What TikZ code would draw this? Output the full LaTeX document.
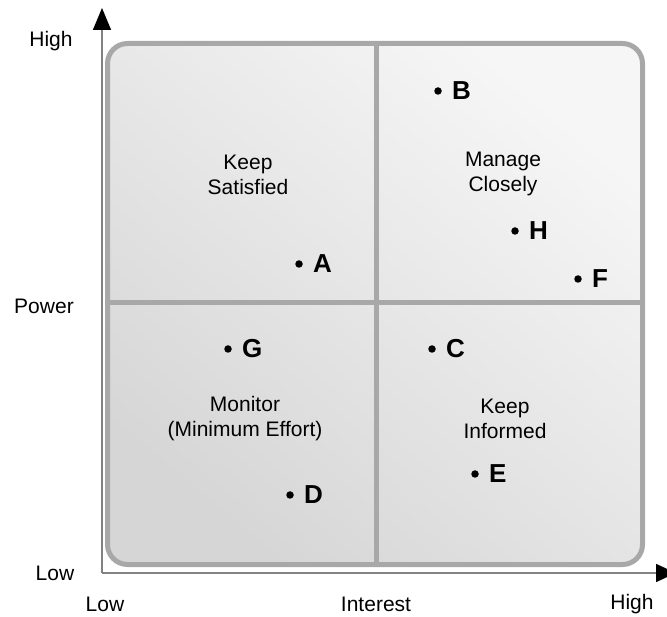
\documentclass[tikz,border=0pt]{standalone}
\usepackage{fontspec}
\setmainfont{Liberation Sans}
\usepackage{xcolor}
\usepackage{tikz}
\usetikzlibrary{arrows.meta,positioning}

\definecolor{frameGray}{RGB}{168,168,168}
\definecolor{axisGray}{RGB}{130,130,130}
\definecolor{lightFill}{RGB}{246,246,246}
\definecolor{darkFill}{RGB}{214,214,214}

\tikzset{
  stakedot/.style={circle,fill=black,inner sep=0pt,minimum size=7.5pt},
  stakename/.style={inner sep=0pt,font=\fontsize{26}{26}\selectfont\bfseries},
  quadtext/.style={align=center,font=\fontsize{21}{25}\selectfont},
  axistext/.style={font=\fontsize{21}{25}\selectfont}
}

\begin{document}
\begin{tikzpicture}[x=1pt,y=1pt,yscale=-1]
\useasboundingbox (0,0) rectangle (667,617);

%Rounded Rect: grid background
\shade [shading=axis,top color=lightFill,bottom color=darkFill,shading angle=-40,rounded corners=20pt]
  (107.5,43.5) rectangle (642.5,564.5);
%Quadrant dividers
\draw [frameGray,line width=5pt] (376,43.5) -- (376,564.5);
\draw [frameGray,line width=5pt] (107.5,303) -- (642.5,303);
%Rounded Rect: frame
\draw [frameGray,line width=5pt,rounded corners=20pt] (107.5,43.5) rectangle (642.5,564.5);

%Axes
\coordinate (origin) at (102,573);
\coordinate (ytip) at (102,8);
\coordinate (xtip) at (676,573);
\draw [axisGray,line width=1.5pt,-{Triangle[color=black,width=18pt,length=22pt]}] (origin) -- (ytip);
\draw [axisGray,line width=1.5pt,-{Triangle[color=black,width=18pt,length=20pt]}] (origin) -- (xtip);

% Text Node
\node [axistext] (powHigh) at (51,41) {High};
% Text Node
\node [axistext] (powLabel) at (44,306) {Power};
% Text Node
\node [axistext] (powLow) at (55,573) {Low};
% Text Node
\node [axistext] (intLow) at (105,604) {Low};
% Text Node
\node [axistext] (intLabel) at (376,604) {Interest};
% Text Node
\node [axistext] (intHigh) at (632,604) {High};

% Text Node
\node [quadtext] (keepSat) at (248,175) {Keep\\Satisfied};
% Text Node
\node [quadtext] (manage) at (503,174) {Manage\\Closely};
% Text Node
\node [quadtext] (monitor) at (245,419) {Monitor\\(Minimum Effort)};
% Text Node
\node [quadtext] (keepInf) at (505,419) {Keep\\Informed};

%Stakeholders
\node [stakedot] (dotA) at (299,264) {};
\node [stakename,right=10pt of dotA] (nameA) {A};
\node [stakedot] (dotB) at (438,91) {};
\node [stakename,right=10pt of dotB] (nameB) {B};
\node [stakedot] (dotC) at (432,349) {};
\node [stakename,right=10pt of dotC] (nameC) {C};
\node [stakedot] (dotD) at (290,495) {};
\node [stakename,right=10pt of dotD] (nameD) {D};
\node [stakedot] (dotE) at (475,474) {};
\node [stakename,right=10pt of dotE] (nameE) {E};
\node [stakedot] (dotF) at (578,279) {};
\node [stakename,right=10pt of dotF] (nameF) {F};
\node [stakedot] (dotG) at (228,349) {};
\node [stakename,right=10pt of dotG] (nameG) {G};
\node [stakedot] (dotH) at (515,231) {};
\node [stakename,right=10pt of dotH] (nameH) {H};

\end{tikzpicture}
\end{document}
